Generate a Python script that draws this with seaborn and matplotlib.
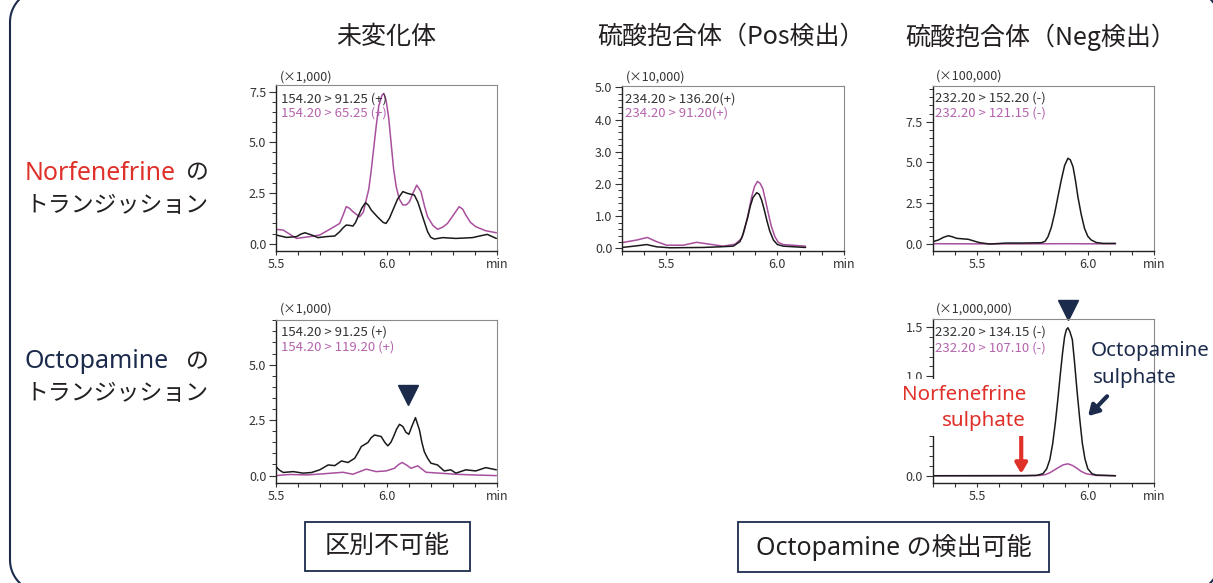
import numpy as np
import pandas as pd
import matplotlib.pyplot as plt
import seaborn as sns
from matplotlib.patches import PathPatch, Rectangle
from matplotlib.path import Path
from matplotlib.ticker import MultipleLocator
from matplotlib.transforms import IdentityTransform

sns.set_style('white')
plt.rcParams['font.family'] = ['Noto Sans CJK JP', 'DejaVu Sans']
LATIN = ['Noto Sans', 'Noto Sans CJK JP']

W, H = 1213, 583

# --- chromatogram data (retention time in min, intensity in scale units) ---
# top-left: unchanged, Norfenefrine transitions (x1,000)
p1_x_a = [5.500, 5.548, 5.593, 5.612, 5.631, 5.661, 5.690, 5.728, 5.766, 5.788, 5.805, 5.818, 5.835,
          5.848, 5.860, 5.871, 5.888, 5.905, 5.918, 5.931, 5.961, 5.985, 5.998, 6.013, 6.029, 6.050,
          6.074, 6.096, 6.126, 6.142, 6.156, 6.172, 6.186, 6.200, 6.216, 6.254, 6.314, 6.389, 6.430,
          6.456, 6.497]
p1_y_a = [0.43, 0.31, 0.35, 0.47, 0.54, 0.43, 0.30, 0.35, 0.38, 0.59, 0.80, 0.92, 0.90,
          0.87, 1.05, 1.33, 1.75, 2.02, 1.90, 1.66, 1.30, 1.05, 1.00, 1.25, 1.66, 2.20,
          2.57, 2.48, 2.40, 2.05, 1.58, 1.05, 0.59, 0.32, 0.23, 0.30, 0.26, 0.30, 0.40,
          0.46, 0.26]
p1_x_b = [5.500, 5.533, 5.565, 5.593, 5.653, 5.698, 5.751, 5.788, 5.805, 5.818, 5.832, 5.848, 5.878,
          5.895, 5.908, 5.920, 5.931, 5.942, 5.953, 5.965, 5.980, 5.988, 5.998, 6.010, 6.021, 6.032,
          6.044, 6.058, 6.074, 6.090, 6.104, 6.120, 6.137, 6.156, 6.172, 6.186, 6.210, 6.231, 6.255,
          6.276, 6.305, 6.329, 6.345, 6.359, 6.380, 6.404, 6.449, 6.497]
p1_y_b = [0.71, 0.67, 0.45, 0.26, 0.35, 0.43, 0.76, 1.00, 1.45, 1.83, 1.75, 1.58, 1.33,
          1.55, 2.15, 2.70, 3.63, 4.70, 5.77, 6.80, 7.34, 7.40, 7.09, 6.20, 4.95, 3.70,
          2.81, 2.20, 1.91, 1.92, 2.07, 2.50, 2.89, 2.57, 1.85, 1.33, 0.90, 0.71, 0.82,
          1.00, 1.45, 1.83, 1.70, 1.41, 1.05, 0.84, 0.64, 0.54]

# top-middle: sulphate, Pos (x10,000)
p2_x_a = [5.300, 5.366, 5.411, 5.456, 5.516, 5.666, 5.741, 5.801, 5.831, 5.843, 5.854, 5.866, 5.877,
          5.890, 5.907, 5.918, 5.929, 5.940, 5.952, 5.965, 5.982, 6.000, 6.027, 6.127]
p2_y_a = [0.03, 0.08, 0.12, 0.05, 0.02, 0.03, 0.05, 0.07, 0.21, 0.40, 0.67, 0.95, 1.29,
          1.58, 1.73, 1.68, 1.50, 1.22, 0.88, 0.55, 0.26, 0.12, 0.07, 0.03]
p2_x_b = [5.300, 5.366, 5.414, 5.456, 5.501, 5.576, 5.636, 5.696, 5.756, 5.809, 5.839, 5.851, 5.862,
          5.873, 5.884, 5.897, 5.910, 5.922, 5.934, 5.946, 5.959, 5.972, 5.989, 6.005, 6.027, 6.127]
p2_y_b = [0.18, 0.26, 0.34, 0.21, 0.10, 0.10, 0.19, 0.13, 0.07, 0.13, 0.31, 0.55, 0.88,
          1.22, 1.60, 1.92, 2.08, 2.02, 1.86, 1.50, 1.09, 0.70, 0.36, 0.18, 0.12, 0.07]

# top-right: sulphate, Neg (x100,000)
p3_x_a = [5.300, 5.326, 5.350, 5.371, 5.390, 5.408, 5.461, 5.490, 5.513, 5.558, 5.633, 5.708, 5.791,
          5.808, 5.821, 5.836, 5.851, 5.866, 5.881, 5.896, 5.911, 5.922, 5.934, 5.945, 5.956, 5.971,
          5.986, 6.001, 6.016, 6.040, 6.069, 6.126]
p3_y_a = [0.12, 0.23, 0.40, 0.49, 0.42, 0.33, 0.27, 0.15, 0.06, -0.02, 0.04, 0.04, 0.06,
          0.15, 0.43, 1.00, 1.86, 2.90, 3.91, 4.80, 5.25, 5.15, 4.73, 3.90, 2.89, 1.80,
          0.94, 0.45, 0.23, 0.07, 0.02, 0.02]
p3_x_b = [5.300, 5.500, 5.700, 5.900, 6.126]
p3_y_b = [0.00, -0.01, -0.01, 0.00, -0.01]

# bottom-left: unchanged, Octopamine transitions (x1,000)
p4_x_a = [5.500, 5.515, 5.533, 5.578, 5.623, 5.661, 5.698, 5.736, 5.766, 5.796, 5.826, 5.856, 5.872,
          5.886, 5.916, 5.930, 5.946, 5.976, 5.992, 6.006, 6.020, 6.032, 6.046, 6.059, 6.074, 6.088,
          6.101, 6.116, 6.131, 6.149, 6.160, 6.171, 6.186, 6.201, 6.231, 6.261, 6.291, 6.314, 6.359,
          6.404, 6.449, 6.497]
p4_y_a = [0.41, 0.25, 0.14, 0.18, 0.11, 0.14, 0.26, 0.48, 0.45, 0.66, 0.59, 0.78, 1.05,
          1.31, 1.49, 1.70, 1.83, 1.76, 1.50, 1.34, 1.50, 1.76, 2.10, 2.31, 2.21, 1.95,
          1.86, 2.25, 2.61, 2.06, 1.50, 1.08, 0.78, 0.56, 0.48, 0.21, 0.26, 0.11, 0.26,
          0.21, 0.36, 0.26]
p4_x_b = [5.500, 5.563, 5.638, 5.713, 5.803, 5.848, 5.908, 5.953, 5.998, 6.036, 6.055, 6.071, 6.090,
          6.111, 6.141, 6.179, 6.239, 6.314, 6.389, 6.497]
p4_y_b = [0.00, 0.05, 0.03, 0.08, 0.15, 0.06, 0.29, 0.18, 0.21, 0.33, 0.50, 0.59, 0.48,
          0.33, 0.44, 0.15, 0.11, 0.06, 0.03, 0.00]

# bottom-right: sulphate, Neg (x1,000,000)
p5_x_a = [5.300, 5.708, 5.768, 5.798, 5.815, 5.829, 5.842, 5.854, 5.866, 5.877, 5.887, 5.896, 5.904,
          5.911, 5.920, 5.931, 5.941, 5.952, 5.964, 5.976, 5.988, 6.001, 6.020, 6.039, 6.126]
p5_y_a = [0.000, 0.000, 0.003, 0.02, 0.07, 0.16, 0.32, 0.53, 0.78, 1.03, 1.24, 1.40, 1.47,
          1.49, 1.45, 1.37, 1.14, 0.86, 0.58, 0.33, 0.17, 0.07, 0.02, 0.007, 0.000]
p5_x_b = [5.300, 5.783, 5.810, 5.829, 5.848, 5.866, 5.890, 5.911, 5.930, 5.949, 5.970, 5.994, 6.039,
          6.126]
p5_y_b = [0.000, 0.003, 0.012, 0.03, 0.055, 0.08, 0.11, 0.12, 0.105, 0.08, 0.045, 0.02, 0.003,
          0.000]

col_titles = ['未変化体', '硫酸抱合体（Pos検出）', '硫酸抱合体（Neg検出）']
row_names = ['Norfenefrine', 'Octopamine']

BLACK = '#1a1a1a'
MAG = '#a8509e'
MAG_TXT = '#b463ad'
NAVY = '#1c2b4c'
RED = '#e0302a'


def px(x, y):
    return x / W, 1 - y / H


fig = plt.figure(figsize=(W / 100, H / 100), dpi=100)


def make_ax(l, t, r, b):
    x0, y1 = px(l, t)
    x1, y0 = px(r, b)
    return fig.add_axes([x0, y0, x1 - x0, y1 - y0])


def style(ax, xlim, ylim, xmaj, ymaj, ymin_step, ylabels):
    ax.set_xlim(*xlim)
    ax.set_ylim(*ylim)
    ax.set_xticks(xmaj + [xlim[1]])
    ax.set_xticklabels([f'{v:.1f}' for v in xmaj] + ['min'])
    ax.xaxis.set_minor_locator(MultipleLocator(0.1))
    ax.set_yticks(ymaj)
    ax.set_yticklabels(ylabels)
    ax.yaxis.set_minor_locator(MultipleLocator(ymin_step))
    ax.set_xlabel('')
    ax.set_ylabel('')
    for s in ['top', 'right']:
        ax.spines[s].set_color('#8a8a8a')
        ax.spines[s].set_linewidth(0.8)
    for s in ['left', 'bottom']:
        ax.spines[s].set_color('#222222')
        ax.spines[s].set_linewidth(1.0)
    ax.tick_params(axis='y', which='major', length=5, width=0.8, color='#333', labelsize=9,
                   labelcolor='#333', pad=2, left=True)
    ax.tick_params(axis='y', which='minor', length=3, width=0.7, color='#333', left=True)
    ax.tick_params(axis='x', which='both', length=3, width=0.8, color='#333', labelsize=9,
                   labelcolor='#333', pad=2, bottom=True)


def draw(ax, xa, ya, xb, yb):
    sns.lineplot(x=xb, y=yb, ax=ax, color=MAG, linewidth=1.1)
    sns.lineplot(x=xa, y=ya, ax=ax, color=BLACK, linewidth=1.1)


def label(x, y, s, **kw):
    fx, fy = px(x, y)
    return fig.text(fx, fy, s, **kw)


ax1 = make_ax(276, 85, 497, 251)
draw(ax1, p1_x_a, p1_y_a, p1_x_b, p1_y_b)
style(ax1, (5.5, 6.5), (-0.36, 7.83), [5.5, 6.0], [0, 2.5, 5.0, 7.5], 0.5,
      ['0.0', '2.5', '5.0', '7.5'])

ax2 = make_ax(622, 86, 844, 251)
draw(ax2, p2_x_a, p2_y_a, p2_x_b, p2_y_b)
style(ax2, (5.3, 6.3), (-0.08, 5.04), [5.5, 6.0], [0, 1, 2, 3, 4, 5], 0.2,
      ['0.0', '1.0', '2.0', '3.0', '4.0', '5.0'])

ax3 = make_ax(932.7, 86, 1154, 250.7)
draw(ax3, p3_x_a, p3_y_a, p3_x_b, p3_y_b)
style(ax3, (5.3, 6.3), (-0.43, 9.69), [5.5, 6.0], [0, 2.5, 5.0, 7.5], 0.5,
      ['0.0', '2.5', '5.0', '7.5'])

ax4 = make_ax(276, 320, 497, 482.7)
draw(ax4, p4_x_a, p4_y_a, p4_x_b, p4_y_b)
style(ax4, (5.5, 6.5), (-0.32, 7.01), [5.5, 6.0], [0, 2.5, 5.0], 0.5,
      ['0.0', '2.5', '5.0'])

ax5 = make_ax(932.7, 319, 1154, 482.7)
draw(ax5, p5_x_a, p5_y_a, p5_x_b, p5_y_b)
style(ax5, (5.3, 6.3), (-0.07, 1.578), [5.5, 6.0], [0, 0.5, 1.0, 1.5], 0.1,
      ['0.0', '0.5', '1.0', '1.5'])

# scale factors
for x, y, s in [(280, 77, '(×1,000)'), (626, 77, '(×10,000)'), (935.7, 76, '(×100,000)'),
                (280, 309, '(×1,000)'), (935.7, 309, '(×1,000,000)')]:
    label(x, y, s, fontsize=9, color='#333', va='center', ha='left')

# transitions
legend = [(280.7, 99.3, 113.3, '154.20 > 91.25 (+)', '154.20 > 65.25 (+)'),
          (625, 99.3, 113.3, '234.20 > 136.20(+)', '234.20 > 91.20(+)'),
          (935, 98.3, 113.3, '232.20 > 152.20 (-)', '232.20 > 121.15 (-)'),
          (280.7, 332.3, 346.7, '154.20 > 91.25 (+)', '154.20 > 119.20 (+)'),
          (935, 332.3, 348.3, '232.20 > 134.15 (-)', '232.20 > 107.10 (-)')]
for x, ya, yb, sa, sb in legend:
    label(x, ya, sa, fontsize=9.5, color='#333', va='center', ha='left')
    label(x, yb, sb, fontsize=9.5, color=MAG_TXT, va='center', ha='left')

# column titles
for x, s in zip([386, 731, 1041], col_titles):
    label(x, 37, s, fontsize=18, color='#231f20', ha='center', va='center')

# row labels
for (y1, y2), name, c in zip([(173, 205), (362, 393)], row_names, [RED, NAVY]):
    label(25, y1, name, fontsize=18, color=c, ha='left', va='center', family=LATIN)
    label(186, y1, 'の', fontsize=16.5, color='#231f20', ha='left', va='center')
    label(25, y2, 'トランジッション', fontsize=16.5, color='#231f20', ha='left', va='center')

# peak markers
ax4.plot([6.098], [3.63], marker='v', ms=15, color=NAVY, clip_on=False)
ax5.plot([5.911], [1.669], marker='v', ms=15, color=NAVY, clip_on=False)

# white patch hiding the axis behind the Norfenefrine sulphate label
x0, y1 = px(890, 379)
x1, y0 = px(1031, 436)
fig.add_artist(Rectangle((x0, y0), x1 - x0, y1 - y0, transform=fig.transFigure,
                         facecolor='white', edgecolor='none', zorder=5))
label(1026, 395, 'Norfenefrine', fontsize=14.8, color=RED, ha='right', va='center',
      zorder=6, family=LATIN)
label(1026, 421, 'sulphate', fontsize=14.8, color=RED, ha='right', va='center',
      zorder=6, family=LATIN)
label(1091, 351, 'Octopamine', fontsize=14.8, color=NAVY, ha='left', va='center',
      zorder=6, family=LATIN)
label(1093, 378, 'sulphate', fontsize=14.8, color=NAVY, ha='left', va='center',
      zorder=6, family=LATIN)

ax5.annotate('', xy=(5.70, 0.02), xytext=(5.70, 0.40), xycoords='data',
             arrowprops=dict(arrowstyle='-|>,head_width=0.35,head_length=0.6', lw=3,
                             color=RED, shrinkA=0, shrinkB=0), annotation_clip=False)
ax5.annotate('', xy=(6.002, 0.60), xytext=(6.088, 0.80), xycoords='data',
             arrowprops=dict(arrowstyle='-|>,head_width=0.35,head_length=0.6', lw=3,
                             color=NAVY, shrinkA=0, shrinkB=0), annotation_clip=False)

# conclusion boxes
for l, t, r, b, s in [(305, 522, 470, 571, '区別不可能'),
                      (738, 522, 1049, 572, 'Octopamine の検出可能')]:
    bx0, by1 = px(l, t)
    bx1, by0 = px(r, b)
    fig.add_artist(Rectangle((bx0, by0), bx1 - bx0, by1 - by0, transform=fig.transFigure,
                             facecolor='white', edgecolor=NAVY, lw=1.3))
    label((l + r) / 2, (t + b) / 2, s, fontsize=18, color='#231f20', ha='center',
          va='center', family=LATIN)

# outer rounded frame, built as a polyline in pixel coordinates
fl, ft, fr, fb, rad = 10, -10, 1220, 592, 32
t = np.linspace(0, np.pi / 2, 20)
corners = [(fr - rad, ft + rad, -np.pi / 2), (fr - rad, fb - rad, 0.0),
           (fl + rad, fb - rad, np.pi / 2), (fl + rad, ft + rad, np.pi)]
pts = []
for cx, cy, a0 in corners:
    pts += list(zip(cx + rad * np.cos(a0 + t), cy + rad * np.sin(a0 + t)))
pts.append(pts[0])
pts = [(x, H - y) for x, y in pts]
fig.add_artist(PathPatch(Path(pts), transform=IdentityTransform(),
                         facecolor='none', edgecolor=NAVY, lw=1.5))

fig.savefig('out.png', dpi=100)
